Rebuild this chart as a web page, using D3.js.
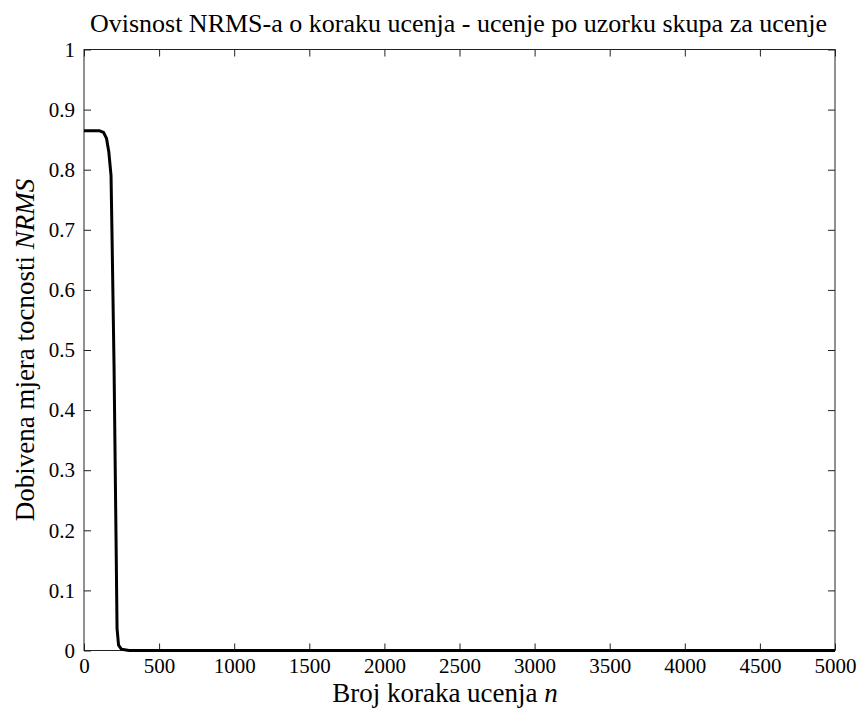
<!DOCTYPE html>
<html>
<head>
<meta charset="utf-8">
<script src="https://cdn.jsdelivr.net/npm/d3@7"></script>
<style>
  html, body { margin: 0; padding: 0; background: #fff; }
  svg { display: block; }
</style>
</head>
<body>
<svg id="chart" width="860" height="713"></svg>
<script>
// Data
const steps = [0, 100, 130, 150, 165, 180, 186, 200, 213, 220, 230, 250, 300, 5000];
const nrms  = [0.865, 0.865, 0.862, 0.852, 0.83, 0.79, 0.70, 0.474, 0.193, 0.037, 0.009, 0.002, 0, 0];
const xTicks = [0, 500, 1000, 1500, 2000, 2500, 3000, 3500, 4000, 4500, 5000];
const yTicks = [0, 0.1, 0.2, 0.3, 0.4, 0.5, 0.6, 0.7, 0.8, 0.9, 1];
const titleText = "Ovisnost NRMS-a o koraku ucenja - ucenje po uzorku skupa za ucenje";

const FONT = "Liberation Serif, Times New Roman, Times, serif";
const svg = d3.select("#chart");
const L = 84, R = 835, T = 49.5, B = 650.5;
const x = d3.scaleLinear().domain([0, 5000]).range([L, R]);
const y = d3.scaleLinear().domain([0, 1]).range([B, T]);
const tickLen = 7;

// plot box
svg.append("rect").attr("x", L).attr("y", T).attr("width", R - L).attr("height", B - T)
  .attr("fill", "#fff").attr("stroke", "#222").attr("stroke-width", 1);

// axes
const xAxis = d3.axisBottom(x).tickValues(xTicks).tickSize(-tickLen).tickPadding(8).tickFormat(d3.format("d"));
const xAxisTop = d3.axisTop(x).tickValues(xTicks).tickSize(-tickLen).tickFormat("");
const yAxis = d3.axisLeft(y).tickValues(yTicks).tickSize(-tickLen).tickPadding(tickLen + 2).tickFormat(d => d3.format("")(+d.toFixed(1)));
const yAxisRight = d3.axisRight(y).tickValues(yTicks).tickSize(-tickLen).tickFormat("");

function style(g) {
  g.attr("font-family", FONT).attr("font-size", 21);
  g.select(".domain").remove();
  g.selectAll(".tick line").attr("stroke", "#222").attr("stroke-width", 1);
  g.selectAll(".tick text").attr("fill", "#000").style("font-family", FONT).style("font-size", "21px");
}
svg.append("g").attr("transform", `translate(0,${B})`).call(xAxis).call(style);
svg.append("g").attr("transform", `translate(0,${T})`).call(xAxisTop).call(style);
svg.append("g").attr("transform", `translate(${L},0)`).call(yAxis).call(style);
svg.append("g").attr("transform", `translate(${R},0)`).call(yAxisRight).call(style);

// line
const pts = steps.map((s, i) => [s, nrms[i]]);
svg.append("path").datum(pts)
  .attr("fill", "none").attr("stroke", "#000").attr("stroke-width", 3)
  .attr("stroke-linejoin", "round")
  .attr("d", d3.line().x(d => x(d[0])).y(d => y(d[1])));

// title
svg.append("text").attr("x", 458.5).attr("y", 32).attr("text-anchor", "middle")
  .style("font-family", FONT).style("font-size", "26px").attr("fill", "#000").text(titleText);

// x label
const xl = svg.append("text").attr("x", 445).attr("y", 702).attr("text-anchor", "middle")
  .style("font-family", FONT).style("font-size", "27px").attr("fill", "#000");
xl.append("tspan").text("Broj koraka ucenja ");
xl.append("tspan").style("font-style", "italic").text("n");

// y label
const yl = svg.append("text").attr("transform", `translate(34,${(T + B) / 2}) rotate(-90)`)
  .attr("text-anchor", "middle").style("font-family", FONT).style("font-size", "27px").attr("fill", "#000");
yl.append("tspan").text("Dobivena mjera tocnosti ");
yl.append("tspan").style("font-style", "italic").text("NRMS");
</script>
</body>
</html>
